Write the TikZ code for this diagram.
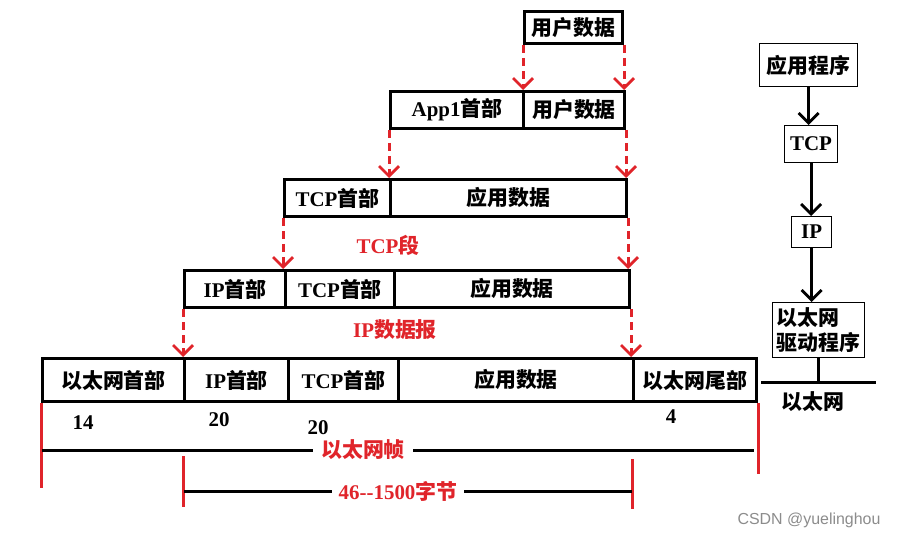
\documentclass[tikz,border=0pt]{standalone}
\usepackage{fontspec}
\setmainfont{Liberation Serif}
\newfontfamily\cjkfont{Noto Sans CJK SC}
\newfontfamily\wmfont{Liberation Sans}
\usetikzlibrary{arrows.meta}
\definecolor{myred}{RGB}{224,36,42}
\newcommand\zhs[1]{{\cjkfont #1}}
\tikzset{
  txt/.style={font=\fontsize{21}{25}\selectfont\bfseries},
  cell/.style={txt,draw,line width=3bp,anchor=north west,inner sep=0pt},
  sbox/.style={txt,draw,line width=1.2bp,anchor=north west,inner sep=0pt},
  redarrow/.style={myred,line width=3bp,dash pattern=on 8bp off 5bp,
    -{Straight Barb[length=10bp,width=20bp,line width=2.8bp]}},
  blkarrow/.style={black,line width=3bp,
    -{Straight Barb[length=10bp,width=20bp,line width=2.8bp]}},
  redline/.style={myred,line width=3bp},
  blkline/.style={black,line width=3bp},
  redlabel/.style={txt,text=myred},
  numlabel/.style={txt},
}
\begin{document}
\begin{tikzpicture}[x=1bp,y=-1bp]
\useasboundingbox (0,0) rectangle (905,539);
\fill[white] (0,0) rectangle (905,539);

% row 1
\node[cell,minimum width=98bp,minimum height=32bp] (r1) at (523,10) {\zhs{用户数据}};
% row 2
\node[cell,minimum width=133bp,minimum height=37bp] (r2a) at (389,90) {App1\zhs{首部}};
\node[cell,minimum width=101bp,minimum height=37bp] (r2b) at (522,90) {\zhs{用户数据}};
% row 3
\node[cell,minimum width=106bp,minimum height=37bp] (r3a) at (283,178) {TCP\zhs{首部}};
\node[cell,minimum width=236bp,minimum height=37bp] (r3b) at (389,178) {\zhs{应用数据}};
% row 4
\node[cell,minimum width=101bp,minimum height=37bp] (r4a) at (183,269) {IP\zhs{首部}};
\node[cell,minimum width=109bp,minimum height=37bp] (r4b) at (284,269) {TCP\zhs{首部}};
\node[cell,minimum width=235bp,minimum height=37bp] (r4c) at (393,269) {\zhs{应用数据}};
% row 5
\node[cell,minimum width=142bp,minimum height=43bp] (r5a) at (41,357) {\zhs{以太网首部}};
\node[cell,minimum width=104bp,minimum height=43bp] (r5b) at (183,357) {IP\zhs{首部}};
\node[cell,minimum width=110bp,minimum height=43bp] (r5c) at (287,357) {TCP\zhs{首部}};
\node[cell,minimum width=235bp,minimum height=43bp] (r5d) at (397,357) {\zhs{应用数据}};
\node[cell,minimum width=123bp,minimum height=43bp] (r5e) at (632,357) {\zhs{以太网尾部}};

% red dashed arrows
\draw[redarrow] (r1.south west) -- (r1.south west |- r2b.north);
\draw[redarrow] (r1.south east) -- (r1.south east |- r2b.north);
\draw[redarrow] (r2a.south west) -- (r2a.south west |- r3b.north);
\draw[redarrow] (r2b.south east) -- (r2b.south east |- r3b.north);
\draw[redarrow] (r3a.south west) -- (r3a.south west |- r4b.north);
\draw[redarrow] (r3b.south east) -- (r3b.south east |- r4c.north);
\draw[redarrow] (r4a.south west) -- (r4a.south west |- r5b.north);
\draw[redarrow] (r4c.south east) -- (r4c.south east |- r5d.north);

% red labels
\node[redlabel] (tcpseg) at (388,245) {TCP\zhs{段}};
\node[redlabel] (ipdg) at (395,330) {IP\zhs{数据报}};

% numbers
\node[numlabel] (n14) at (83,423) {14};
\node[numlabel] (n20a) at (219,420) {20};
\node[numlabel] (n20b) at (318,428) {20};
\node[numlabel] (n4) at (671,417) {4};

% dimension lines
\coordinate (v1b) at (42,488);
\coordinate (v2t) at (183,456);
\coordinate (v2b) at (183,507);
\coordinate (v3t) at (632,459);
\coordinate (v3b) at (632,509);
\coordinate (v4b) at (755,474);
\coordinate (h1l) at (42,450);
\coordinate (h1r) at (754,450);
\coordinate (h2l) at (184,491);
\coordinate (h2r) at (632,491);
\draw[redline] (r5a.south west) -- (r5a.south west |- v1b);
\draw[redline] (r5e.south east) -- (r5e.south east |- v4b);
\draw[redline] (v2t) -- (v2b);
\draw[redline] (v3t) -- (v3b);
\draw[blkline] (h1l) -- (h1r);
\draw[blkline] (h2l) -- (h2r);
\node[redlabel,fill=white,inner xsep=8bp] (frame) at (363,450) {\zhs{以太网帧}};
\node[redlabel,fill=white,inner xsep=7bp] (range) at (398,491) {46-{}-1500\zhs{字节}};

% right-hand stack
\node[sbox,minimum width=98bp,minimum height=43bp] (a1) at (759,43) {\zhs{应用程序}};
\node[sbox,minimum width=53bp,minimum height=37bp] (a2) at (784,125) {TCP};
\node[sbox,minimum width=40bp,minimum height=31bp] (a3) at (791,216) {IP};
\node[sbox,minimum width=92bp,minimum height=55bp,align=left] (a4) at (772,302) {\zhs{以太网}\\\zhs{驱动程序}};
\draw[blkarrow] (a1.south) -- (a1.south |- a2.north);
\draw[blkarrow] (a2.south) -- (a2.south |- a3.north);
\draw[blkarrow] (a3.south) -- (a3.south |- a4.north);
\coordinate (eL) at (761,382);
\coordinate (eR) at (876,382);
\draw[blkline] (a4.south) -- (a4.south |- eL);
\draw[blkline] (eL) -- (eR);
\node[txt] (eth) at (813,402) {\zhs{以太网}};

% watermark
\node[font=\wmfont\fontsize{16}{19}\selectfont,text=black!45] (wm) at (809,520) {CSDN @yuelinghou};
\end{tikzpicture}
\end{document}
